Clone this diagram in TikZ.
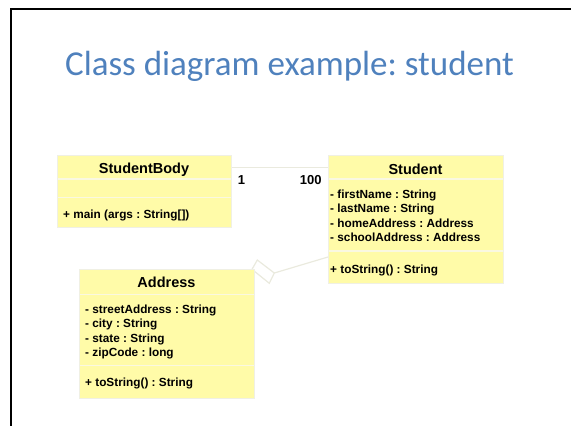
\documentclass[tikz,border=0pt]{standalone}
\usepackage{fontspec}
\setmainfont{Liberation Sans}
\newfontfamily\titlefont{Carlito}
\frenchspacing
\definecolor{boxfill}{RGB}{255,251,168}
\definecolor{boxline}{RGB}{240,240,228}
\definecolor{divline}{RGB}{250,248,225}
\definecolor{titleblue}{RGB}{79,129,189}
\definecolor{linkgray}{RGB}{234,234,222}
\tikzset{
  cbox/.style={draw=boxline, fill=boxfill, line width=1pt, inner sep=0pt, anchor=north west},
  divider/.style={draw=divline, line width=1.2pt},
  cname/.style={font=\fontsize{14.5}{16}\selectfont\bfseries, anchor=base, inner sep=0pt},
  attr/.style={font=\fontsize{11.8}{13}\selectfont\bfseries, anchor=base west, inner sep=0pt},
  mult/.style={font=\fontsize{13}{14}\selectfont\bfseries, inner sep=0pt},
  link/.style={draw=linkgray, line width=1.2pt},
  aggdiamond/.style={draw=linkgray, fill=white, line width=1.2pt, line join=miter},
  frameline/.style={draw=black, line width=2.3pt, line join=miter},
  titletext/.style={font=\titlefont\fontsize{35}{40}\selectfont, text=titleblue, anchor=base, inner sep=0pt},
}
\begin{document}
\begin{tikzpicture}[x=1pt,y=1pt]
\useasboundingbox (0,0) rectangle (571,-426);
% frame
\coordinate (fr1) at (572,-9);
\coordinate (fr2) at (11,-9);
\coordinate (fr3) at (11,-427);
\draw[frameline] (fr1) -- (fr2) -- (fr3);
% title
\node[titletext] (title) at (289.5,-75) {Class diagram example: student};

% class boxes
\node[cbox, minimum width=174pt, minimum height=72pt] (sb) at (57,-154.5) {};
\node[cbox, minimum width=175pt, minimum height=128pt] (st) at (328,-155) {};

% connectors
\coordinate (ya) at (0,-167.5);
\coordinate (yb) at (0,-257);
\draw[link] (sb.east |- ya) -- (st.west |- ya);
\coordinate (dl) at (252,-269.3);
\coordinate (dt) at (257.3,-260);
\coordinate (dr) at (274.3,-273);
\coordinate (db) at (269.3,-283.3);
\draw[link] (dr) -- (st.west |- yb);
\draw[aggdiamond] (dl) -- (dt) -- (dr) -- (db) -- cycle;
% address box over the diamond tip
\node[cbox, minimum width=175pt, minimum height=128.4pt] (ad) at (79,-269.3) {};

% dividers
\draw[divider] ([yshift=-24.5pt,xshift=0.6pt]sb.north west) -- ([yshift=-24.5pt,xshift=-0.6pt]sb.north east);
\draw[divider] ([yshift=-42.8pt,xshift=0.6pt]sb.north west) -- ([yshift=-42.8pt,xshift=-0.6pt]sb.north east);
\draw[divider] ([yshift=-24pt,xshift=0.6pt]st.north west) -- ([yshift=-24pt,xshift=-0.6pt]st.north east);
\draw[divider] ([yshift=-96pt,xshift=0.6pt]st.north west) -- ([yshift=-96pt,xshift=-0.6pt]st.north east);
\draw[divider] ([yshift=-25pt,xshift=0.6pt]ad.north west) -- ([yshift=-25pt,xshift=-0.6pt]ad.north east);
\draw[divider] ([yshift=-96.4pt,xshift=0.6pt]ad.north west) -- ([yshift=-96.4pt,xshift=-0.6pt]ad.north east);

% StudentBody texts
\node[cname] (sbn) at (144,-173.5) {StudentBody};
\node[attr] (sbm) at (63,-218) {+ main (args : String[])};

% Student texts
\node[cname] (stn) at (415.5,-174) {Student};
\node[attr] (sta1) at (330,-198.3) {- firstName : String};
\node[attr] (sta2) at (330,-212.8) {- lastName : String};
\node[attr] (sta3) at (330,-227.3) {- homeAddress : Address};
\node[attr] (sta4) at (330,-241.8) {- schoolAddress : Address};
\node[attr] (stm) at (330,-273.3) {+ toString() : String};

% Address texts
\node[cname] (adn) at (166.5,-287.7) {Address};
\node[attr] (ada1) at (85,-313.3) {- streetAddress : String};
\node[attr] (ada2) at (85,-327.8) {- city : String};
\node[attr] (ada3) at (85,-342.3) {- state : String};
\node[attr] (ada4) at (85,-356.8) {- zipCode : long};
\node[attr] (adm) at (85,-386.7) {+ toString() : String};

% multiplicities
\node[mult, anchor=base west] (m1) at (237.7,-184.3) {1};
\node[mult, anchor=base east] (m2) at (321.7,-184.3) {100};
\end{tikzpicture}
\end{document}
